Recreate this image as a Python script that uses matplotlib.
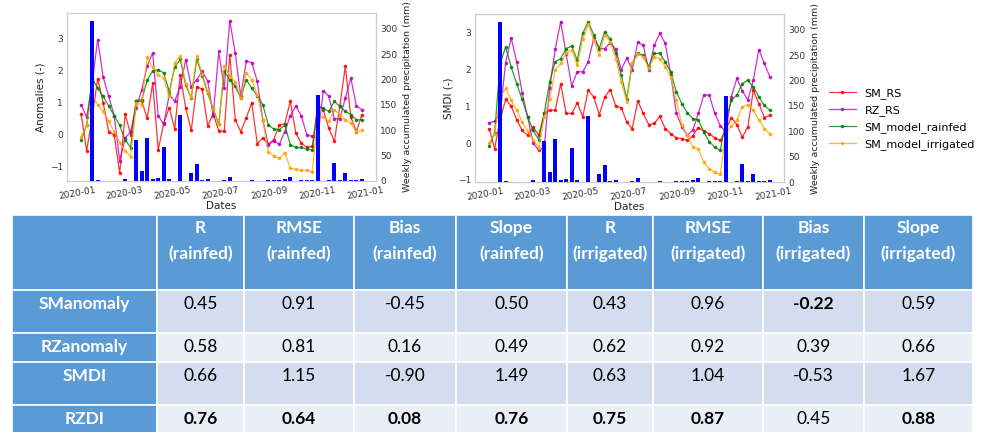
import matplotlib
matplotlib.use('Agg')
import matplotlib.pyplot as plt
import matplotlib.dates as mdates
import pandas as pd
from matplotlib.patches import Rectangle

# ---------------- data ----------------
dates = pd.date_range('2020-01-06', periods=52, freq='7D')

precip = [0, 0, 315, 1, 0, 0, 0, 0, 3, 0, 80, 19, 85, 4, 5, 67, 4, 0, 130, 0,
          15, 34, 2, 4, 0, 0, 1, 7, 0, 0, 0, 2, 0, 0, 1, 1, 2, 3, 8, 0,
          1, 1, 1, 170, 0, 1, 35, 1, 16, 2, 1, 4]

# Anomalies chart
anom_sm_rs = [0.65, -0.5, 0.55, 1.75, 1.0, 0.1, 0.0, -1.2, 0.65, 0.0, 1.04, 1.05, 0.52, 1.61, -0.47, 0.36,
              0.85, 0.19, 1.87, 0.84, 0.14, 1.49, 1.43, 0.28, 0.66, 0.12, 0.12, 2.5, 0.47, 0.1, 0.53, 1.0,
              -0.28, -0.1, -0.3, -0.15, 0.3, 0.35, 1.05, 0.05, -0.26, -0.39, -0.36, 0.95, 0.78, 0.2, -0.2,
              0.9, 2.14, 0.55, 0.1, 0.62]
anom_rz_rs = [0.94, 0.55, 1.6, 2.97, 1.8, 1.2, 0.6, -0.8, -0.1, 0.1, 0.85, 1.4, 2.15, 2.55, 0.6, 0.33,
              1.25, 1.05, 1.5, 2.34, 1.5, 1.72, 1.98, 1.67, 0.6, 2.6, 1.45, 3.56, 2.55, 1.2, 2.3, 2.25,
              1.67, 0.47, -0.31, -0.19, -0.29, 0.1, 0.6, 0.9, 0.6, 0.0, -0.05, -0.1, 1.38, 1.2, 0.5,
              0.5, 1.15, 1.77, 0.9, 0.78]
anom_model_rainfed = [-0.15, 0.3, 1.78, 1.45, 1.2, 0.9, 0.6, 0.3, -0.15, -0.4, 1.07, 1.09, 1.7, 2.0, 2.03, 1.93,
                      1.35, 2.1, 2.35, 1.55, 1.15, 2.35, 1.85, 1.3, 0.8, 0.33, 1.98, 1.72, 1.51, 1.15, 1.72,
                      1.46, 1.22, 0.94, 0.31, 0.18, 0.16, 0.31, -0.31, -0.39, -0.39, -0.45, -0.47, 0.88,
                      0.83, 0.73, 1.04, 0.89, 0.73, 0.63, 0.47, 0.47]
anom_model_irrigated = [-0.07, 0.3, 1.25, 0.94, 0.73, 0.42, 0.1, -0.24, -0.5, -0.68, 0.99, 0.94, 2.43, 2.1,
                        1.88, 1.77, 1.2, 2.24, 2.47, 1.6, 1.17, 2.45, 1.9, 1.35, 0.8, 0.33, 2.16, 1.85,
                        1.64, 1.15, 1.93, 1.72, 1.25, 0.47, -0.52, -0.66, -0.73, -0.57, -1.04, -1.07,
                        -1.11, -1.11, -1.15, 0.6, 0.57, 0.42, 0.78, 0.63, 0.47, 0.36, 0.1, 0.14]

# SMDI chart
smdi_sm_rs = [0.39, -0.15, 0.65, 1.18, 1.0, 0.63, 0.34, 0.21, 0.43, 0.21, 0.8, 0.89, 0.89, 1.6, 0.8, 0.8,
              1.09, 0.71, 1.43, 1.25, 0.77, 1.25, 1.45, 1.0, 0.96, 0.57, 0.39, 1.14, 0.8, 0.5, 0.53, 0.72,
              0.39, 0.25, 0.14, 0.12, 0.07, 0.2, 0.42, 0.33, 0.25, 0.14, 0.07, 0.35, 0.69, 0.5, 0.16,
              0.43, 1.43, 1.07, 0.69, 0.75]
smdi_rz_rs = [0.55, 0.59, 0.8, 2.18, 2.85, 2.2, 1.36, 0.7, 0.0, -0.2, -0.12, 1.5, 2.54, 3.29, 2.4, 1.55,
              1.93, 1.93, 2.2, 2.84, 2.56, 2.56, 2.72, 2.54, 1.99, 2.3, 1.99, 2.73, 2.65, 1.99, 2.65,
              2.97, 2.7, 1.85, 0.82, 0.44, 0.21, 0.35, 0.8, 1.3, 1.3, 0.8, 0.47, 0.3, 1.25, 1.75, 1.42,
              1.16, 1.71, 2.53, 2.16, 1.79]
smdi_model_rainfed = [-0.09, 0.28, 2.16, 2.6, 2.06, 1.61, 1.18, 0.71, 0.34, 0.09, 0.8, 1.66, 2.2, 2.29,
                      2.56, 2.63, 2.25, 2.97, 3.29, 2.93, 2.56, 3.02, 2.81, 2.43, 1.84, 1.2, 2.16, 2.43,
                      2.38, 2.07, 2.43, 2.43, 2.2, 1.93, 1.39, 1.07, 0.82, 0.66, 0.63, 0.3, 0.03, -0.11,
                      -0.2, 0.6, 1.16, 1.3, 1.61, 1.7, 1.52, 1.25, 1.02, 0.89]
smdi_model_irrigated = [0.0, 0.25, 1.25, 1.48, 1.16, 0.89, 0.57, 0.32, 0.09, -0.13, 0.7, 1.2, 1.97, 2.16,
                        2.43, 2.52, 2.11, 2.81, 3.22, 2.79, 2.38, 2.93, 2.75, 2.29, 1.66, 1.12, 2.16, 2.4,
                        2.34, 2.02, 2.34, 2.29, 2.07, 1.79, 1.16, 0.48, 0.21, -0.11, -0.15, -0.52, -0.7,
                        -0.79, -0.85, 0.3, 0.45, 0.62, 0.98, 1.04, 0.89, 0.62, 0.39, 0.24]

series_labels = ['SM_RS', 'RZ_RS', 'SM_model_rainfed', 'SM_model_irrigated']
series_colors = ['red', 'm', 'green', 'orange']

# Table
col_headers = ['R\n(rainfed)', 'RMSE\n(rainfed)', 'Bias\n(rainfed)', 'Slope\n(rainfed)',
               'R\n(irrigated)', 'RMSE\n(irrigated)', 'Bias\n(irrigated)', 'Slope\n(irrigated)']
row_labels = ['SManomaly', 'RZanomaly', 'SMDI', 'RZDI']
table_values = [
    ['0.45', '0.91', '-0.45', '0.50', '0.43', '0.96', '-0.22', '0.59'],
    ['0.58', '0.81', '0.16', '0.49', '0.62', '0.92', '0.39', '0.66'],
    ['0.66', '1.15', '-0.90', '1.49', '0.63', '1.04', '-0.53', '1.67'],
    ['0.76', '0.64', '0.08', '0.76', '0.75', '0.87', '0.45', '0.88'],
]
table_bold = [
    [False, False, False, False, False, False, True, False],
    [False] * 8,
    [False] * 8,
    [True, True, True, True, True, True, False, True],
]

# ---------------- figure ----------------
W, H = 998, 432
fig = plt.figure(figsize=(W / 100, H / 100), dpi=100)
fig.patch.set_facecolor('white')


def px_axes(x0, y0, x1, y1, **kw):
    return fig.add_axes([x0 / W, 1 - y1 / H, (x1 - x0) / W, (y1 - y0) / H], **kw)


def draw_chart(ax, series, ylabel):
    lines = []
    for vals, color, label in zip(series, series_colors, series_labels):
        ln, = ax.plot(dates, vals, color=color, marker='.', ms=3.2, lw=0.9, alpha=0.8, label=label)
        lines.append(ln)
    ax.set_ylabel(ylabel, fontsize=7.5, color='#222222', labelpad=3)
    ax.set_xlabel('Dates', fontsize=7.5, color='#222222', labelpad=0)
    ax.set_xlim(dates[0] - pd.Timedelta(days=18), dates[-1] + pd.Timedelta(days=18))
    ax2 = ax.twinx()
    ax2.bar(dates, precip, width=5, color='blue')
    ax2.set_ylabel('Weekly accumulated precipitation (mm)', fontsize=6.8, color='#222222')
    ax.xaxis.set_major_locator(mdates.MonthLocator(bymonth=[1, 3, 5, 7, 9, 11]))
    ax.xaxis.set_major_formatter(mdates.DateFormatter('%Y-%m'))
    for a in (ax, ax2):
        for s in a.spines.values():
            s.set_color('#cccccc')
        a.tick_params(length=0, labelsize=6.5, colors='#333333', pad=3)
    for lab in ax.get_xticklabels():
        lab.set_rotation(10)
    return lines


ax_a = px_axes(67, 13, 376, 181)
lines = draw_chart(ax_a, [anom_sm_rs, anom_rz_rs, anom_model_rainfed, anom_model_irrigated], 'Anomalies (-)')

ax_s = px_axes(475, 14, 784, 182)
draw_chart(ax_s, [smdi_sm_rs, smdi_rz_rs, smdi_model_rainfed, smdi_model_irrigated], 'SMDI (-)')

fig.legend(handles=lines, labels=series_labels, loc='center left',
           bbox_to_anchor=(829 / W, 1 - 119 / H), frameon=False, fontsize=8,
           handlelength=2.4, labelspacing=0.55, borderaxespad=0, borderpad=0)

# ---------------- table ----------------
tax = px_axes(0, 0, W, H)
tax.set_xlim(0, W)
tax.set_ylim(H, 0)
tax.axis('off')

col_edges = [12, 157, 244, 354, 456, 567, 653, 763, 864, 973]
row_edges = [215, 290, 333, 362, 405, 450]
header_blue = '#5B9BD5'
band_dark = '#D2DEEF'
band_light = '#EAEFF7'
tfont = ['Lato', 'DejaVu Sans']
fs = 12.5

for r in range(len(row_edges) - 1):
    y0, y1 = row_edges[r], row_edges[r + 1]
    for c in range(len(col_edges) - 1):
        x0, x1 = col_edges[c], col_edges[c + 1]
        if r == 0 or c == 0:
            fc = header_blue
        else:
            fc = band_dark if (r % 2 == 1) else band_light
        tax.add_patch(Rectangle((x0, y0), x1 - x0, y1 - y0, facecolor=fc,
                                edgecolor='white', linewidth=1.2))

# header text
for c, txt in enumerate(col_headers):
    xc = (col_edges[c + 1] + col_edges[c + 2]) / 2
    top, bottom = txt.split('\n')
    tax.text(xc, 228, top, ha='center', va='center', color='white', fontsize=fs,
             fontweight='bold', family=tfont)
    tax.text(xc, 254, bottom, ha='center', va='center', color='white', fontsize=fs,
             fontweight='bold', family=tfont)

for r, lab in enumerate(row_labels):
    yc = row_edges[r + 1] + 14
    tax.text((col_edges[0] + col_edges[1]) / 2, yc, lab, ha='center', va='center',
             color='white', fontsize=fs, fontweight='bold', family=tfont)
    for c, val in enumerate(table_values[r]):
        xc = (col_edges[c + 1] + col_edges[c + 2]) / 2
        tax.text(xc, yc, val, ha='center', va='center', color='black', fontsize=fs,
                 fontweight='bold' if table_bold[r][c] else 'normal', family=tfont)

fig.savefig('out.png', dpi=100)
